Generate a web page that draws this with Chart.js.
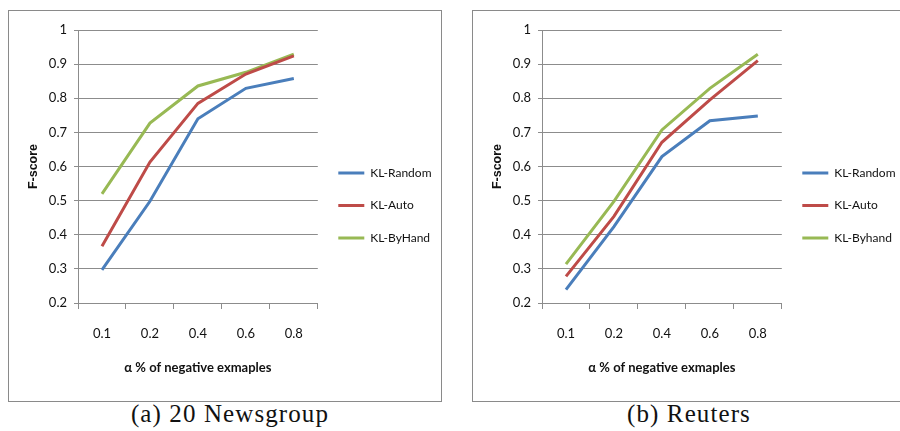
<!DOCTYPE html>
<html lang="en">
<head>
  <meta charset="UTF-8" />
  <title>F-score vs negative examples</title>
  <style>
    body {
      margin: 0;
      background: #fff;
      width: 900px;
      height: 431px;
      overflow: hidden;
      position: relative;
    }
    .frame {
      position: absolute;
      top: 10px;
      height: 390px;
      border: 1px solid #8a8a8a;
    }
    .panel {
      position: absolute;
      top: 11px;
      width: 445px;
      height: 389px;
    }
    .caption {
      position: absolute;
      top: 400px;
      font-family: "Liberation Serif", "DejaVu Serif", serif;
      font-size: 25px;
      letter-spacing: 1.1px;
      color: #111;
      transform: translateX(-50%);
      white-space: nowrap;
    }
  </style>
  <script src="https://cdn.jsdelivr.net/npm/chart.js"></script>
</head>
<body>
  <div class="frame" style="left:8px; width:432px;"></div>
  <div class="frame" style="left:472px; width:440px;"></div>
  <div class="panel" style="left:9px;"><canvas id="chartA" width="445" height="389"></canvas></div>
  <div class="panel" style="left:473px;"><canvas id="chartB" width="445" height="389"></canvas></div>
  <div class="caption" style="left:230px;">(a) 20 Newsgroup</div>
  <div class="caption" style="left:689px;">(b) Reuters</div>

  <script>
    // x categories (alpha % of negative examples)
    const categories = ['0.1', '0.2', '0.4', '0.6', '0.8'];

    // (a) 20 Newsgroup
    const newsRandom = [0.297, 0.498, 0.740, 0.829, 0.858];
    const newsAuto   = [0.366, 0.613, 0.785, 0.871, 0.924];
    const newsByHand = [0.520, 0.727, 0.836, 0.876, 0.929];

    // (b) Reuters
    const reutRandom = [0.239, 0.424, 0.629, 0.734, 0.748];
    const reutAuto   = [0.278, 0.454, 0.671, 0.795, 0.910];
    const reutByhand = [0.314, 0.498, 0.707, 0.829, 0.929];

    const yMin = 0.2, yMax = 1, yStep = 0.1;

    const BLUE = '#4a7ebb', RED = '#be4b48', GREEN = '#98b954';
    const GRID = '#8c8c8c';
    const FONT = 'Lato, "Open Sans", sans-serif';

    function line(label, data, color) {
      return {
        label: label,
        data: data,
        borderColor: color,
        backgroundColor: color,
        borderWidth: 3,
        pointRadius: 0,
        tension: 0
      };
    }

    function makeChart(id, datasets) {
      return new Chart(document.getElementById(id), {
        type: 'line',
        data: { labels: categories, datasets: datasets },
        options: {
          responsive: false,
          animation: false,
          layout: { padding: { left: 10, top: 19, right: 12.5, bottom: 19 } },
          plugins: {
            tooltip: { enabled: false },
            legend: {
              position: 'right',
              align: 'center',
              maxWidth: 200,
              labels: {
                boxWidth: 26,
                boxHeight: 3,
                padding: 20.5,
                color: '#111',
                font: { family: FONT, size: 12 },
                generateLabels: chart =>
                  Chart.defaults.plugins.legend.labels.generateLabels(chart)
                    .map(l => Object.assign(l, { lineWidth: 0 }))
              }
            }
          },
          scales: {
            x: {
              offset: true,
              border: { color: GRID, width: 1 },
              grid: { offset: true, drawOnChartArea: false, color: GRID, tickLength: 6 },
              ticks: { color: '#111', padding: 17, font: { family: FONT, size: 13 } },
              title: {
                display: true,
                text: 'α % of negative exmaples',
                color: '#111',
                padding: { top: 0, bottom: 5 },
                font: { family: FONT, size: 13, weight: 'bold' }
              },
              afterFit: s => { s.height = 78; }
            },
            y: {
              min: yMin,
              max: yMax,
              border: { color: GRID, width: 1 },
              grid: { color: GRID, tickLength: 4 },
              ticks: {
                stepSize: yStep,
                color: '#111',
                padding: 7,
                font: { family: FONT, size: 13 },
                callback: v => String(Number(v.toFixed(1)))
              },
              title: {
                display: true,
                text: 'F-score',
                color: '#111',
                padding: { top: 7, bottom: 0 },
                font: { family: '"Liberation Sans", Arial, sans-serif', size: 12.5, weight: 'bold' }
              },
              afterFit: s => { s.width = 59; }
            }
          }
        }
      });
    }

    makeChart('chartA', [
      line('KL-Random', newsRandom, BLUE),
      line('KL-Auto', newsAuto, RED),
      line('KL-ByHand', newsByHand, GREEN)
    ]);

    makeChart('chartB', [
      line('KL-Random', reutRandom, BLUE),
      line('KL-Auto', reutAuto, RED),
      line('KL-Byhand', reutByhand, GREEN)
    ]);
  </script>
</body>
</html>
